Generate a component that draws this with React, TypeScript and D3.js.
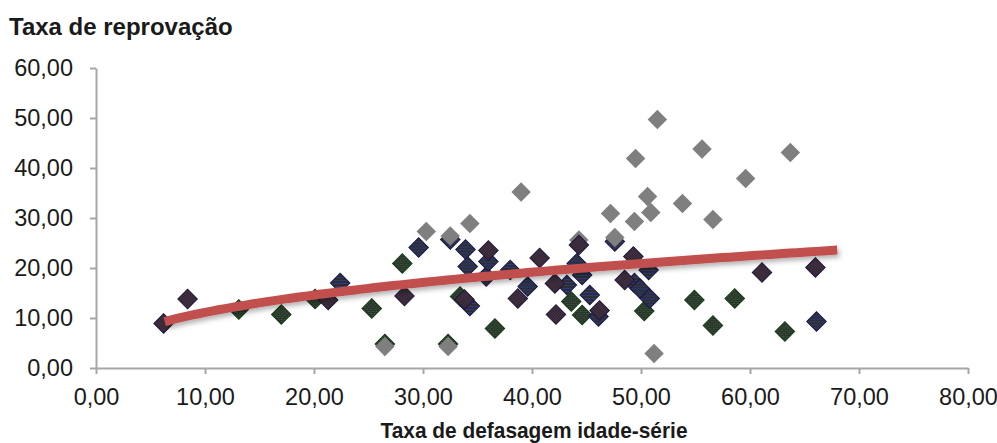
import React, { useRef, useEffect } from "react";
import * as d3 from "d3";

// series
const greenX = [13.1, 17.0, 20.1, 25.3, 28.1, 33.4, 36.6, 43.6, 44.6, 50.3, 54.9, 58.6, 56.6, 63.2, 26.5, 32.3];
const greenY = [11.7, 10.7, 13.8, 11.9, 20.9, 14.3, 7.9, 13.3, 10.6, 11.4, 13.6, 13.9, 8.5, 7.3, 4.8, 4.8];

const blueX = [22.4, 29.6, 33.9, 34.1, 34.3, 35.8, 36.0, 38.0, 39.6, 43.2, 45.3, 46.1, 49.4, 49.9, 50.7, 50.8, 66.1, 32.5, 47.6, 44.6, 44.1];
const blueY = [17.0, 24.1, 23.7, 20.3, 12.4, 18.3, 21.3, 19.6, 16.3, 16.6, 14.6, 10.3, 17.0, 15.9, 19.6, 13.9, 9.3, 25.7, 25.3, 18.6, 20.9];

const grayX = [26.5, 32.3, 51.2, 30.3, 32.5, 34.3, 39.0, 47.2, 47.6, 49.4, 49.5, 50.6, 50.9, 51.5, 53.8, 55.6, 56.6, 59.6, 63.7, 44.3];
const grayY = [4.3, 4.3, 2.9, 27.3, 26.4, 28.9, 35.2, 30.9, 26.1, 29.3, 41.9, 34.3, 31.1, 49.7, 32.9, 43.8, 29.7, 37.9, 43.1, 25.6];

const purpleX = [6.2, 8.4, 21.3, 28.3, 33.8, 36.0, 38.7, 40.7, 42.1, 42.2, 44.3, 46.2, 48.5, 49.3, 61.1, 66.0];
const purpleY = [8.9, 13.8, 13.6, 14.4, 13.7, 23.5, 13.9, 22.0, 16.9, 10.7, 24.6, 11.5, 17.6, 22.3, 19.1, 20.1];

const xTicks = [0, 10, 20, 30, 40, 50, 60, 70, 80];
const yTicks = [0, 10, 20, 30, 40, 50, 60];

const yTitle = "Taxa de reprovação";
const xTitle = "Taxa de defasagem idade-série";

// power trendline y = a * x^b, coefficients
const trendA = 4.51;
const trendB = 0.392;
const trendRange = [6.3, 68.0];

const W = 997;
const H = 443;
const FONT = "Arial, 'Liberation Sans', sans-serif";

const fmt = (d: number) => d.toFixed(2).replace(".", ",");

const App = () => {
  const svgRef = useRef<SVGSVGElement>(null);

  useEffect(() => {
    document.body.style.margin = "0";
    const svg = d3.select(svgRef.current);
    svg.selectAll("*").remove();

    const x = d3.scaleLinear().domain([0, 80]).range([96, 968]);
    const y = d3.scaleLinear().domain([0, 60]).range([368, 68]);

    const defs = svg.append("defs");

    // green speckle
    const pg = defs.append("pattern").attr("id", "pGreen").attr("width", 3).attr("height", 3)
      .attr("patternUnits", "userSpaceOnUse");
    pg.append("rect").attr("width", 3).attr("height", 3).attr("fill", "#2e2e2e");
    pg.append("rect").attr("x", 0).attr("y", 0).attr("width", 1).attr("height", 1).attr("fill", "#1c7a1c");
    pg.append("rect").attr("x", 2).attr("y", 1).attr("width", 1).attr("height", 1).attr("fill", "#207a20");
    pg.append("rect").attr("x", 1).attr("y", 2).attr("width", 1).attr("height", 1).attr("fill", "#4a2a5a");

    // blue stripes
    const pb = defs.append("pattern").attr("id", "pBlue").attr("width", 3).attr("height", 3)
      .attr("patternUnits", "userSpaceOnUse").attr("patternTransform", "rotate(45)");
    pb.append("rect").attr("width", 3).attr("height", 3).attr("fill", "#2e2e2e");
    pb.append("rect").attr("width", 1).attr("height", 3).attr("fill", "#2c3a86");

    // purple checker
    const pp = defs.append("pattern").attr("id", "pPurple").attr("width", 2).attr("height", 2)
      .attr("patternUnits", "userSpaceOnUse");
    pp.append("rect").attr("width", 2).attr("height", 2).attr("fill", "#333033");
    pp.append("rect").attr("width", 1).attr("height", 1).attr("fill", "#5e2a62");
    pp.append("rect").attr("x", 1).attr("y", 1).attr("width", 1).attr("height", 1).attr("fill", "#262626");

    const shadow = defs.append("filter").attr("id", "lineShadow")
      .attr("x", "-10%").attr("y", "-50%").attr("width", "120%").attr("height", "200%");
    shadow.append("feDropShadow").attr("dx", 2).attr("dy", 3).attr("stdDeviation", 2.5)
      .attr("flood-color", "#000").attr("flood-opacity", 0.3);

    // y axis
    const gy = svg.append("g").attr("transform", `translate(${x(0)},0)`)
      .call(d3.axisLeft(y).tickValues(yTicks).tickFormat(fmt as any).tickSize(6).tickSizeOuter(0).tickPadding(17));
    gy.select(".domain").attr("stroke", "#a6a6a6").attr("stroke-width", 2);
    gy.selectAll(".tick line").attr("stroke", "#a6a6a6").attr("stroke-width", 2);
    gy.selectAll(".tick text").attr("font-family", FONT).attr("font-size", 23.5).attr("fill", "#1a1a1a");

    // x axis
    const gx = svg.append("g").attr("transform", `translate(0,${y(0)})`)
      .call(d3.axisBottom(x).tickValues(xTicks).tickFormat(fmt as any).tickSize(6).tickSizeOuter(0).tickPadding(14));
    gx.select(".domain").attr("stroke", "#a6a6a6").attr("stroke-width", 2);
    gx.selectAll(".tick line").attr("stroke", "#a6a6a6").attr("stroke-width", 2);
    gx.selectAll(".tick text").attr("font-family", FONT).attr("font-size", 23.5).attr("fill", "#1a1a1a");

    // markers
    const diamond = d3.symbol().type(d3.symbolSquare).size(190)();
    const drawSeries = (xs: number[], ys: number[], fill: string, stroke: string) => {
      svg.append("g").selectAll("path")
        .data(xs.map((v, i) => [v, ys[i]]))
        .enter()
        .append("path")
        .attr("d", diamond)
        .attr("transform", d => `translate(${x(d[0])},${y(d[1])}) rotate(45)`)
        .attr("fill", fill)
        .attr("stroke", stroke)
        .attr("stroke-width", stroke === "none" ? 0 : 1);
    };
    drawSeries(greenX, greenY, "url(#pGreen)", "#163a16");
    drawSeries(blueX, blueY, "url(#pBlue)", "#18184a");
    drawSeries(grayX, grayY, "#7f7f7f", "none");
    drawSeries(purpleX, purpleY, "url(#pPurple)", "#22163a");

    // trendline
    const trendPts = d3.range(0, 101).map(i => {
      const xv = trendRange[0] + (trendRange[1] - trendRange[0]) * i / 100;
      return [xv, trendA * Math.pow(xv, trendB)] as [number, number];
    });

    svg.append("path")
      .datum(trendPts)
      .attr("d", d3.line<[number, number]>().x(d => x(d[0])).y(d => y(d[1])))
      .attr("fill", "none")
      .attr("stroke", "#c0504d")
      .attr("stroke-width", 9)
      .attr("filter", "url(#lineShadow)");

    // titles
    svg.append("text")
      .attr("x", 9).attr("y", 35)
      .attr("font-family", FONT).attr("font-size", 24).attr("font-weight", "bold").attr("fill", "#1a1a1a")
      .text(yTitle);

    svg.append("text")
      .attr("x", 534).attr("y", 438)
      .attr("text-anchor", "middle")
      .attr("font-family", FONT).attr("font-size", 22.5).attr("font-weight", "bold").attr("fill", "#1a1a1a")
      .attr("textLength", 307).attr("lengthAdjust", "spacingAndGlyphs")
      .text(xTitle);
  }, []);

  return <svg ref={svgRef} width={W} height={H} style={{ display: "block", background: "#fff" }} />;
};

export default App;
